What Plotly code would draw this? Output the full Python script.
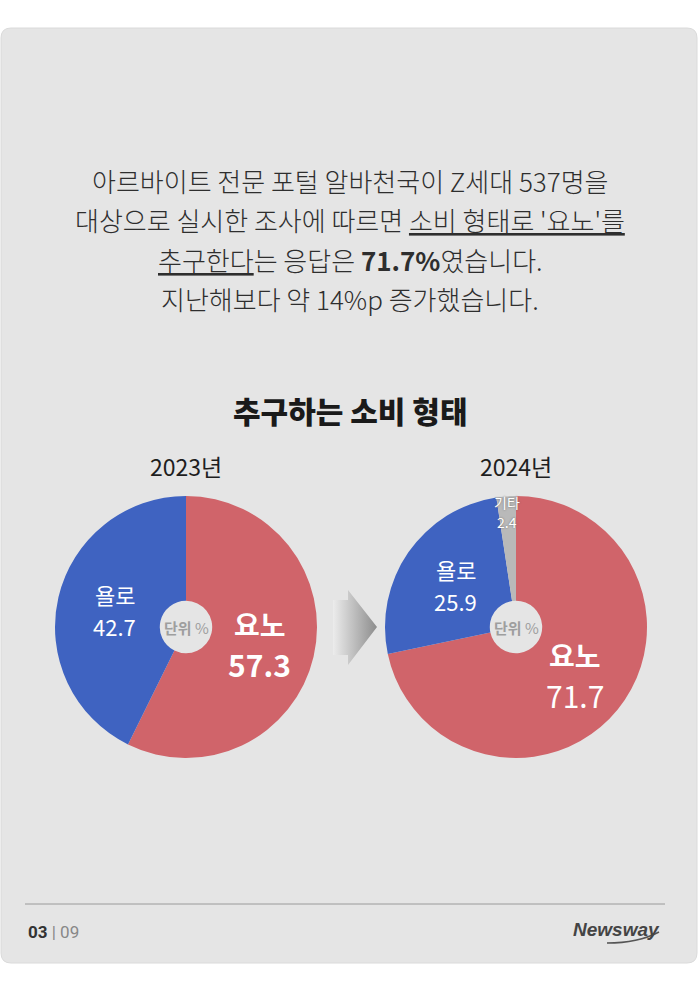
import math
import plotly.graph_objects as go

# ---------------- data ----------------
labels = ["요노", "욜로", "기타"]
values_2023 = [57.3, 42.7, 0.0]
values_2024 = [71.7, 25.9, 2.4]
years = ["2023년", "2024년"]
slice_colors = ["#d0646a", "#3f63c1", "#b9b9b9"]

body_lines = [
    "아르바이트 전문 포털 알바천국이 Z세대 537명을",
    "대상으로 실시한 조사에 따르면 <span style='text-decoration:underline'>소비 형태로 '요노'를</span>",
    "<span style='text-decoration:underline'>추구한다</span>는 응답은 <b>71.7%</b>였습니다.",
    "지난해보다 약 14%p 증가했습니다.",
]
title = "추구하는 소비 형태"
page_current, page_total = "03", "09"
brand = "Newsway"

W, H = 700, 990
FONT = "Noto Sans CJK KR"

fig = go.Figure()

fig.update_layout(
    width=W, height=H, margin=dict(l=0, r=0, t=0, b=0),
    paper_bgcolor="#ffffff", plot_bgcolor="rgba(0,0,0,0)",
    xaxis=dict(range=[0, W], visible=False, domain=[0, 1], fixedrange=True),
    yaxis=dict(range=[H, 0], visible=False, domain=[0, 1], fixedrange=True),
    showlegend=False,
    font=dict(family=FONT),
)

shapes = []
x0, y0, x1, y1, rr = 1, 28, 697, 963, 10
card = (f"M{x0+rr},{y0} L{x1-rr},{y0} Q{x1},{y0} {x1},{y0+rr} L{x1},{y1-rr} Q{x1},{y1} {x1-rr},{y1} "
        f"L{x0+rr},{y1} Q{x0},{y1} {x0},{y1-rr} L{x0},{y0+rr} Q{x0},{y0} {x0+rr},{y0} Z")
shapes.append(dict(type="path", path=card, xref="x", yref="y", fillcolor="#e5e5e5",
                   line=dict(color="#dadada", width=1), layer="below"))
shapes.append(dict(type="line", x0=25, x1=665, y0=904, y1=904, xref="x", yref="y",
                   line=dict(color="#9a9a9a", width=1), layer="below"))
shapes.append(dict(type="path", path="M607,943 Q638,943 659,932", xref="x", yref="y",
                   line=dict(color="#555555", width=1.6), layer="above"))

# arrow with gradient
ax = [333, 348, 348, 377, 348, 348, 333, 333]
ay = [600, 600, 590, 627, 665, 655, 655, 600]
fig.add_trace(go.Scatter(x=ax, y=ay, mode="lines", fill="toself", line=dict(width=0),
                         fillgradient=dict(type="horizontal",
                                           colorscale=[[0, "#ececec"], [1, "#8c8c8c"]]),
                         hoverinfo="skip"))

R = 131
centers = [(186, 627), (516, 627)]
annotations = []
for (cx, cy), vals, yr in zip(centers, [values_2023, values_2024], years):
    fig.add_trace(go.Pie(
        values=vals, labels=labels, sort=False, direction="clockwise", rotation=0,
        hole=0.2, marker=dict(colors=slice_colors, line=dict(width=0)),
        textinfo="none", hoverinfo="skip",
        domain=dict(x=[(cx - R) / W, (cx + R) / W], y=[(H - cy - R) / H, (H - cy + R) / H]),
    ))
    annotations.append(dict(x=cx, y=cy - R - 30, text=yr, showarrow=False, xref="x", yref="y",
                            font=dict(size=23, color="#1e1e1e", family=FONT)))
    annotations.append(dict(x=cx, y=cy, text="<b>단위</b> %", showarrow=False, xref="x", yref="y",
                            font=dict(size=15, color="#9e9e9e", family=FONT)))
    total = sum(vals)
    cum = 0
    for lab, v in zip(labels, vals):
        if v <= 0:
            cum += v
            continue
        mid = (cum + v / 2) / total * 2 * math.pi
        cum += v
        if v < 5:
            rf, fs1, fs2, gap, bold = 0.88, 14, 14, 10, False
        elif v > 50:
            rf, fs1, fs2, gap, bold = 0.58, 28, 30, 20, True
        else:
            rf, fs1, fs2, gap, bold = 0.56, 22, 22, 16, False
        lx = cx + rf * R * math.sin(mid)
        ly = cy - rf * R * math.cos(mid)
        name = f"<b>{lab}</b>" if bold else lab
        num = f"{v:.1f}"
        if bold and yr == years[0]:
            num = f"<b>{num}</b>"
        shadow = "0px 0px 2px #666" if v < 5 else "none"
        annotations.append(dict(x=lx, y=ly - gap, xref="x", yref="y", showarrow=False, text=name,
                                font=dict(size=fs1, color="#ffffff", family=FONT, shadow=shadow)))
        annotations.append(dict(x=lx, y=ly + gap, xref="x", yref="y", showarrow=False, text=num,
                                font=dict(size=fs2, color="#ffffff", family=FONT, shadow=shadow)))

for i, line in enumerate(body_lines):
    annotations.append(dict(x=350, y=180 + i * 39.5, text=line, showarrow=False, xref="x", yref="y",
                            font=dict(size=26, color="#2e2e2e", family=FONT, weight=300)))
annotations.append(dict(x=350, y=410, text=title, showarrow=False, xref="x", yref="y",
                        font=dict(size=30, color="#1a1a1a", family=FONT, weight=900)))
annotations.append(dict(x=26, y=932, xanchor="left", showarrow=False, xref="x", yref="y",
                        text=f"<b>{page_current}</b><span style='color:#888'> | {page_total}</span>",
                        font=dict(size=17, color="#333333", family="Roboto")))
annotations.append(dict(x=662, y=929, xanchor="right", showarrow=False, xref="x", yref="y",
                        text=f"<b><i>{brand}</i></b>",
                        font=dict(size=19, color="#444444", family="Liberation Sans")))

fig.update_layout(shapes=shapes, annotations=annotations)
fig.write_html("out.html")
